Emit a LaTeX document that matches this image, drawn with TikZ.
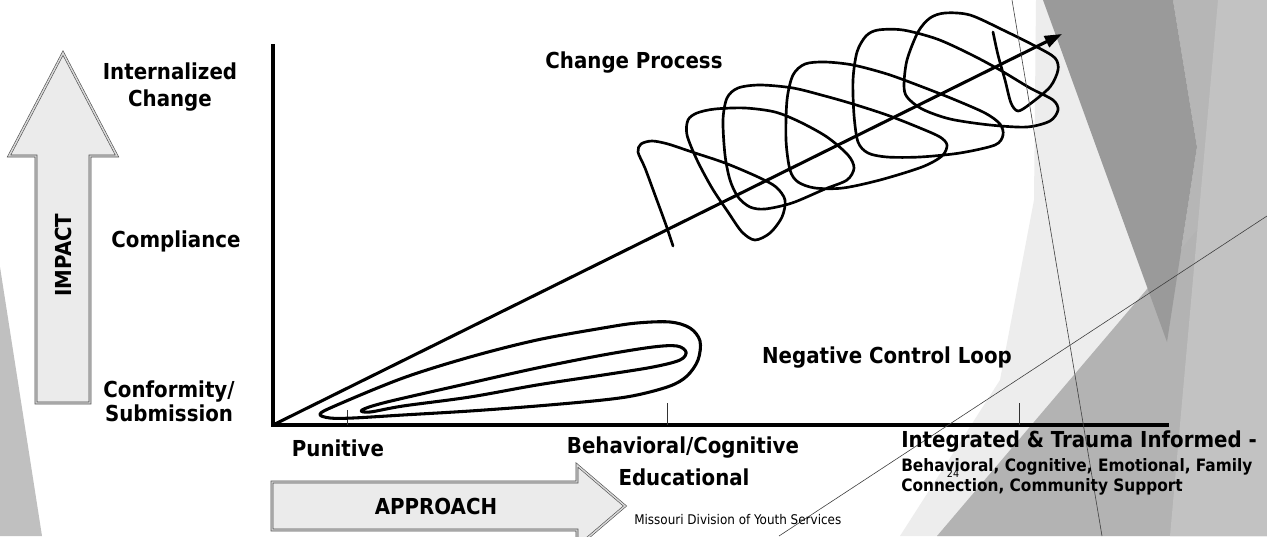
\documentclass[tikz,border=0pt]{standalone}
\usepackage{fontspec}
\setmainfont{DejaVu Sans Condensed}
\usetikzlibrary{arrows.meta}
\definecolor{bglight}{HTML}{EDEDED}
\definecolor{bgmid}{HTML}{B3B3B3}
\definecolor{bgdark}{HTML}{9A9A9A}
\definecolor{bgstrip}{HTML}{B6B6B6}
\definecolor{bgright}{HTML}{C2C2C2}
\definecolor{bgleft}{HTML}{C0C0C0}
\definecolor{arrowfill}{HTML}{EBEBEB}
\begin{document}
\begin{tikzpicture}[x=0.75pt,y=-0.75pt,
  lbl/.style={font=\bfseries\fontsize{16.5}{20.5}\selectfont, inner sep=0pt, align=center},
  lbltight/.style={font=\bfseries\fontsize{16.5}{18}\selectfont, inner sep=0pt, align=center},
  smlbl/.style={font=\bfseries\fontsize{12.8}{15}\selectfont, inner sep=0pt, anchor=west},
  tinylbl/.style={font=\fontsize{8}{9}\selectfont, inner sep=0pt},
  footlbl/.style={font=\fontsize{10}{12}\selectfont, inner sep=0pt, anchor=west},
  blockarrow/.style={draw=black!70, double=gray!30, double distance=1.1pt, line width=0.45pt, fill=arrowfill, line join=miter},
  axisline/.style={line width=2.3pt},
  mainarrow/.style={line width=2.3pt, -{Triangle[length=13pt,width=9pt]}},
  coil/.style={line width=2pt, line join=round, line cap=round},
  tickline/.style={line width=0.7pt, draw=black!80},
  thinline/.style={draw=black!75, line width=0.45pt}
]
\clip (0,0) rectangle (1267,536);
\fill[white] (0,0) rectangle (1267,536);
% background facets
\fill[bgleft] (0,267) -- (42,536) -- (0,536) -- cycle;
\fill[bglight] (1036,0) -- (1267,0) -- (1267,536) -- (900,536) -- (1000,380) -- (1034,200) -- cycle;
\fill[bgstrip] (1173,0) -- (1267,0) -- (1267,536) -- (1167,342) -- (1197,147) -- cycle;
\fill[bgmid] (1267,148) -- (1267,536) -- (937,536) -- cycle;
\fill[bgdark] (1043,0) -- (1173,0) -- (1197,147) -- (1167,342) -- cycle;
\fill[bgright] (1218,0) -- (1267,0) -- (1267,536) -- (1170,536) -- cycle;

% coordinates
\coordinate (O) at (273,425);
\coordinate (ytop) at (273,44);
\coordinate (xend) at (1169,425);
\coordinate (tip) at (1062,34);

% block arrows
\draw[blockarrow] (36,403) -- (36,156) -- (9,156) -- (63,53) -- (117,156) -- (90,156) -- (90,403) -- cycle;
\node[lbl, rotate=90] (impact) at (63,255) {IMPACT};
\draw[blockarrow] (272,482) -- (577,482) -- (577,465) -- (625,506) -- (577,547) -- (577,530) -- (272,530) -- cycle;
\node[lbl] (approach) at (436,506) {APPROACH};

% axes and ticks
\draw[axisline] (ytop) -- (O) -- (xend);
\coordinate (t1) at (347,425); \coordinate (t1a) at (347,410);
\coordinate (t2) at (667,425); \coordinate (t2a) at (667,403);
\coordinate (t3) at (1019,425); \coordinate (t3a) at (1019,403);
\draw[tickline] (t1) -- (t1a);
\draw[tickline] (t2) -- (t2a);
\draw[tickline] (t3) -- (t3a);

% negative control loop
\draw[coil, line width=2.3pt] plot[smooth cycle, tension=0.55] coordinates {
 (320,414) (337,405) (403,378) (470,357) (537,340) (603,328) (637,323) (670,322)
 (690,328) (700,341) (698,360) (687,376) (670,386) (637,395) (603,400) (537,406)
 (470,411) (403,415) (353,418) (330,418)};
\draw[coil, line width=2.3pt] plot[smooth cycle, tension=0.55] coordinates {
 (362,410) (387,402) (470,383) (537,368) (603,355) (653,347) (677,346) (686,352)
 (680,360) (653,367) (603,375) (537,385) (470,397) (403,406) (370,412)};

% main arrow
\draw[mainarrow] (O) -- (tip);

% change process coil
\draw[coil] plot[smooth, tension=0.5] coordinates {
 (673,246) (666,225) (655,195) (645,168) (638,152) (641,144) (652,141) (668,144)
 (692,152) (725,163) (758,177) (776,187) (785,200) (782,217) (770,233) (755,240)
 (742,232) (728,212) (712,188) (697,160) (687,135) (688,120) (697,113)
 (715,109) (745,108) (775,112) (800,122) (827,137) (848,155) (854,168) (847,180)
 (825,189) (792,203) (765,209) (750,207) (738,197) (730,180) (725,155) (723,120)
 (727,98) (738,88) (760,85) (793,88) (825,96) (853,104) (887,115) (920,128)
 (940,137) (947,145) (942,156) (922,167) (880,180) (843,188) (815,188) (798,182)
 (790,170) (786,140) (787,100) (793,75) (805,64) (825,62) (853,65) (887,74)
 (920,86) (953,99) (985,113) (1000,124) (1003,135) (995,145) (960,153) (920,157)
 (887,157) (868,153) (858,142) (854,115) (853,80) (857,52) (866,36) (878,30)
 (903,30) (937,39) (970,54) (1000,70) (1030,88) (1053,100) (1058,110) (1050,121)
 (1027,127) (990,125) (950,119) (922,109) (907,97) (904,85) (907,60) (918,32)
 (930,18) (945,13) (970,15) (1003,30) (1037,47) (1055,58) (1058,70) (1050,87)
 (1030,104) (1018,111) (1011,103) (1005,80) (998,55) (993,32)};

% thin slide lines
\coordinate (la) at (1012,0); \coordinate (lb) at (1102,536);
\coordinate (lc) at (779,536); \coordinate (ld) at (1267,216);
\draw[thinline] (la) -- (lb);
\draw[thinline] (lc) -- (ld);

% labels
\node[lbl] (internal) at (170,87) {Internalized\\Change};
\node[lbl] (compliance) at (176,241) {Compliance};
\node[lbltight] (conform) at (169,401) {Conformity/\\Submission};
\node[lbl] (changeproc) at (634,63) {Change Process};
\node[lbl] (negloop) at (887,358) {Negative Control Loop};
\node[lbl] (punitive) at (338,448) {Punitive};
\node[lbl] (behav) at (683,448) {Behavioral/Cognitive};
\node[lbl] (educ) at (684,477) {Educational};
\node[lbl, anchor=west] (integ) at (901,442) {Integrated \& Trauma Informed -};
\node[smlbl] (integ2) at (901,467) {Behavioral, Cognitive, Emotional, Family};
\node[smlbl] (integ3) at (901,487) {Connection, Community Support};
\node[tinylbl] (pagenum) at (953,474) {24};
\node[footlbl] (footer) at (634,520) {Missouri Division of Youth Services};
\end{tikzpicture}
\end{document}
